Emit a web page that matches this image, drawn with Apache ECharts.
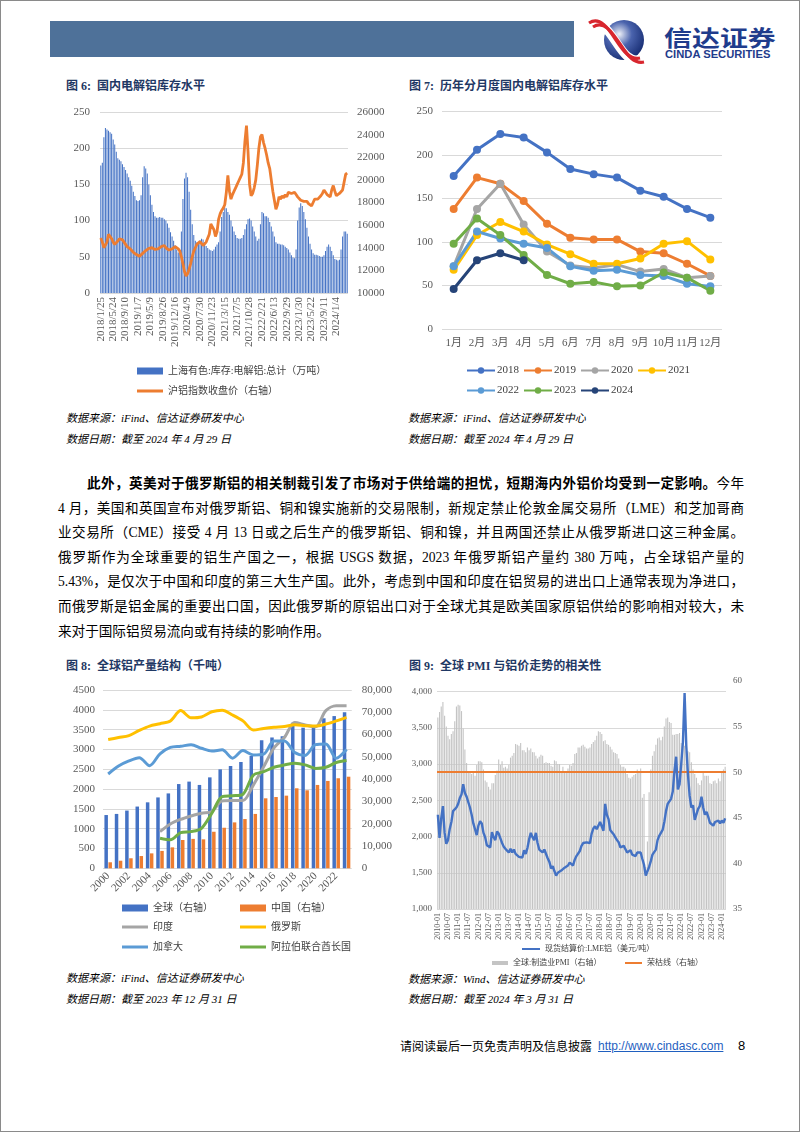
<!DOCTYPE html>
<html><head><meta charset="utf-8">
<script src="https://cdn.jsdelivr.net/npm/echarts@6/dist/echarts.min.js"></script>
<style>
html,body{margin:0;padding:0;background:#fff;}
#page{position:relative;width:802px;height:1133px;overflow:hidden;background:#fff;font-family:'Liberation Serif','Noto Sans CJK SC',serif;color:#000;}
.abs{position:absolute;white-space:nowrap;}
.title{font-size:12px;font-weight:bold;color:#1F3864;line-height:14px;}
.src{font-size:11px;font-style:italic;line-height:14px;}
.chart{position:absolute;}
.tline{position:absolute;font-size:13.6px;line-height:18px;text-align:justify;text-align-last:justify;}
</style></head>
<body>
<div id="page">
  <div class="abs" style="left:0;top:0;width:800px;height:1132px;box-sizing:border-box;border:1.5px solid #8a8a8a;"></div>
  <div class="abs" style="left:50px;top:21px;width:524px;height:36px;background:#4E7199;"></div>
  <svg class="abs" style="left:586px;top:16px;" width="72" height="48" viewBox="0 0 72 48">
    <defs><radialGradient id="lg" cx="38%" cy="35%" r="70%"><stop offset="0" stop-color="#eef1f8"/><stop offset="0.45" stop-color="#4a63ad"/><stop offset="1" stop-color="#162c72"/></radialGradient></defs>
    <circle cx="38" cy="24" r="20" fill="url(#lg)"/>
    <path d="M3 9 C 14 2, 22 14, 30 26 S 44 46, 54 44" stroke="#fff" stroke-width="9" fill="none"/>
    <path d="M3 9 C 14 2, 22 14, 30 26 S 44 46, 54 44" stroke="#d8262e" stroke-width="3.2" fill="none" transform="translate(0,-2)"/>
    <path d="M3 9 C 14 2, 22 14, 30 26 S 44 46, 54 44" stroke="#d8262e" stroke-width="3.2" fill="none" transform="translate(4,2)"/>
  </svg>
  <div class="abs" style="left:664px;top:23px;font-family:'Noto Sans CJK SC';font-weight:bold;font-size:22px;line-height:26px;color:#1F3C8C;transform:scaleX(1.27);transform-origin:0 0;">信达证券</div>
  <div class="abs" style="left:665px;top:49px;font-family:'Liberation Sans';font-weight:bold;font-size:10px;line-height:11px;color:#1F3C8C;transform:scaleX(1.12);transform-origin:0 0;">CINDA SECURITIES</div>

  <div class="abs title" style="left:66px;top:79px;">图 6:&nbsp; 国内电解铝库存水平</div>
  <div class="abs title" style="left:409px;top:79px;">图 7:&nbsp; 历年分月度国内电解铝库存水平</div>
  <div id="c6" class="chart" style="left:50px;top:95px;width:345px;height:310px;"></div>
  <div id="c7" class="chart" style="left:400px;top:95px;width:345px;height:310px;"></div>
  <div class="abs src" style="left:66px;top:411px;">数据来源：iFind、信达证券研发中心</div>
  <div class="abs src" style="left:66px;top:432px;">数据日期：截至 2024 年 4 月 29 日</div>
  <div class="abs src" style="left:408px;top:411px;">数据来源：iFind、信达证券研发中心</div>
  <div class="abs src" style="left:408px;top:432px;">数据日期：截至 2024 年 4 月 29 日</div>

  <div class="tline" style="left:87px;width:657px;top:475px;"><b>此外，英美对于俄罗斯铝的相关制裁引发了市场对于供给端的担忧，短期海内外铝价均受到一定影响。</b>今年</div>
  <div class="tline" style="left:58px;width:686px;top:499.6px;">4 月，美国和英国宣布对俄罗斯铝、铜和镍实施新的交易限制，新规定禁止伦敦金属交易所（LME）和芝加哥商</div>
  <div class="tline" style="left:58px;width:686px;top:524.2px;">业交易所（CME）接受 4 月 13 日或之后生产的俄罗斯铝、铜和镍，并且两国还禁止从俄罗斯进口这三种金属。</div>
  <div class="tline" style="left:58px;width:686px;top:548.8px;">俄罗斯作为全球重要的铝生产国之一，根据 USGS 数据，2023 年俄罗斯铝产量约 380 万吨，占全球铝产量的</div>
  <div class="tline" style="left:58px;width:686px;top:573.4px;">5.43%，是仅次于中国和印度的第三大生产国。此外，考虑到中国和印度在铝贸易的进出口上通常表现为净进口，</div>
  <div class="tline" style="left:58px;width:686px;top:598px;">而俄罗斯是铝金属的重要出口国，因此俄罗斯的原铝出口对于全球尤其是欧美国家原铝供给的影响相对较大，未</div>
  <div class="tline" style="left:58px;width:686px;top:622.6px;text-align-last:left;">来对于国际铝贸易流向或有持续的影响作用。</div>

  <div class="abs title" style="left:66px;top:659px;">图 8:&nbsp; 全球铝产量结构（千吨）</div>
  <div class="abs title" style="left:409px;top:659px;">图 9:&nbsp; 全球 PMI 与铝价走势的相关性</div>
  <div id="c8" class="chart" style="left:50px;top:675px;width:345px;height:285px;"></div>
  <div id="c9" class="chart" style="left:400px;top:670px;width:350px;height:300px;"></div>
  <div class="abs src" style="left:66px;top:971px;">数据来源：iFind、信达证券研发中心</div>
  <div class="abs src" style="left:66px;top:992px;">数据日期：截至 2023 年 12 月 31 日</div>
  <div class="abs src" style="left:408px;top:972px;">数据来源：Wind、信达证券研发中心</div>
  <div class="abs src" style="left:408px;top:992px;">数据日期：截至 2024 年 3 月 31 日</div>

  <div class="abs" style="left:400px;top:1039px;font-size:12px;line-height:16px;">请阅读最后一页免责声明及信息披露</div>
  <div class="abs" style="left:598px;top:1038px;font-family:'Liberation Sans';font-size:12px;line-height:16px;color:#1F5FBF;text-decoration:underline;">http://www.cindasc.com</div>
  <div class="abs" style="left:738px;top:1038px;font-family:'Liberation Sans';font-size:13px;line-height:16px;">8</div>
</div>
<script>
// ---------- Figure 6 ----------
var tick6 = ['2018/1/25','2018/5/24','2018/9/10','2019/1/7','2019/5/9','2019/8/26','2019/12/16','2020/4/9','2020/7/30','2020/11/23','2021/3/15','2021/7/5','2021/10/28','2022/2/21','2022/6/13','2022/9/29','2023/1/30','2023/5/22','2023/9/11','2024/1/4'];
var inv6 = [
176,180,215,228,226,224,222,220,212,205,
195,186,184,182,178,174,170,165,160,155,
148,140,134,128,127,128,135,160,175,172,
165,150,135,122,112,106,104,104,105,104,
104,102,100,96,90,84,78,72,66,60,
56,58,85,130,158,166,160,140,115,95,
80,72,70,70,73,75,74,70,65,62,
60,59,58,60,64,67,70,85,105,112,
118,117,112,108,100,92,85,80,76,75,
75,76,80,88,95,102,103,100,92,85,
78,72,75,95,112,110,106,106,104,98,
92,85,78,70,68,68,67,67,66,64,
62,60,56,52,49,48,60,100,118,124,
120,112,102,90,78,68,60,55,53,53,
52,51,50,50,52,58,64,67,64,58,
52,47,46,45,46,60,78,85,85,82];
var price6 = [
14860,14500,14000,13850,14500,15200,15100,14800,14500,14300,
14400,14600,14800,14860,14700,14500,14300,14100,14000,13900,
13800,13600,13500,13400,13300,13250,13300,13500,13600,13750,
13850,13950,14100,14000,13900,13850,13800,13900,14000,14100,
14250,14200,14000,13850,13800,13850,13900,14000,14100,14050,
13900,13700,13200,12600,11900,11500,11700,12100,12600,13200,
13700,14000,14300,14450,14550,14400,14200,14300,14500,14600,
15200,16100,16000,15600,15000,15400,16500,17000,17300,17500,
17800,18900,20400,19000,18300,18700,19000,19300,19600,19900,
20200,20500,21500,23400,24800,22500,19600,18600,18800,19300,
20000,21300,22800,23800,24000,23300,22800,22200,21500,21000,
20000,19000,18200,17400,17800,18500,18300,18600,18400,18700,
18500,18900,19000,18800,18700,18900,18700,18500,18400,18200,
18300,18100,18000,18100,17900,17800,17700,18000,18300,18400,
18300,18200,18600,18800,19100,18900,18700,18600,18500,19100,
19500,19000,18600,18700,18800,18900,19100,19800,20500,20600];
var tickStep6 = 8;
var name6a = '上海有色:库存:电解铝:总计（万吨）';
var name6b = '沪铝指数收盘价（右轴）';

// ---------- Figure 7 ----------
var months7 = ['1月','2月','3月','4月','5月','6月','7月','8月','9月','10月','11月','12月'];
var y2018 = [176,206,224,220,203,184,178,174,159,152,138,128];
var y2019 = [138,174,167,147,121,105,103,103,89,87,75,61];
var y2020 = [72,138,167,120,89,73,70,74,66,69,59,61];
var y2021 = [68,108,123,112,97,86,75,75,81,98,101,80];
var y2022 = [72,112,104,98,93,72,67,68,62,61,52,49];
var y2023 = [98,127,108,85,62,52,54,49,50,65,59,44];
var y2024 = [46,79,87,79];

// ---------- Figure 8 ----------
var years8 = ['2000','2001','2002','2003','2004','2005','2006','2007','2008','2009','2010','2011','2012','2013','2014','2015','2016','2017','2018','2019','2020','2021','2022','2023'];
var global8 = [23900,24400,25900,27700,29600,31800,33600,37800,38900,37400,40800,44400,45900,47700,50400,57500,58700,59300,65300,63100,64300,67300,68300,70000];
var china8 = [2700,3400,4500,5500,6700,7800,9400,12700,13200,13000,16400,18200,20600,22100,24400,31400,32000,32600,35900,35000,37400,39200,40400,41100];
var india8 = [null,null,null,null,null,925,1120,1235,1320,1390,1430,1700,1710,1710,2100,2560,3040,3300,3680,3620,3570,3980,4100,4100];
var russia8 = [3250,3300,3350,3480,3590,3650,3720,3980,3800,3820,3950,3990,3870,3720,3490,3530,3560,3580,3620,3600,3590,3640,3720,3810];
var canada8 = [2380,2580,2710,2790,2590,2890,3050,3080,3120,3030,2960,2990,2780,2970,2860,2880,3210,3210,2920,2850,3120,3140,2780,3000];
var uae8 = [null,null,null,null,null,760,720,900,925,1010,1390,1810,1830,1870,2350,2440,2550,2610,2650,2610,2520,2550,2670,2720];

// ---------- Figure 9 ----------
var tick9 = ['2010-01','2010-07','2011-01','2011-07','2012-01','2012-07','2013-01','2013-07','2014-01','2014-07','2015-01','2015-07','2016-01','2016-07','2017-01','2017-07','2018-01','2018-07','2019-01','2019-07','2020-01','2020-07','2021-01','2021-07','2022-01','2022-07','2023-01','2023-07','2024-01'];
var tickStep9 = 6;
var lme9 = [
2300,1980,2250,2420,2050,1900,1950,2100,2200,2350,2330,2400,
2450,2530,2580,2720,2600,2550,2560,2400,2300,2180,2100,2020,
2150,2210,2180,2050,1990,1880,1880,1850,2060,1990,1950,2070,
2040,2050,1910,1860,1830,1820,1780,1830,1780,1820,1760,1750,
1720,1700,1710,1810,1760,1840,1960,2050,1990,1950,2050,1910,
1820,1820,1780,1820,1810,1700,1650,1560,1590,1520,1460,1500,
1480,1530,1530,1570,1560,1600,1640,1640,1600,1680,1730,1730,
1800,1870,1910,1930,1920,1900,1910,2040,2110,2140,2100,2090,
2200,2180,2080,2450,2300,2240,2090,2060,2030,2020,1950,1920,
1850,1870,1870,1850,1780,1760,1810,1750,1760,1730,1780,1780,
1780,1690,1610,1460,1470,1580,1660,1750,1760,1820,1950,2010,
2010,2090,2200,2350,2450,2450,2520,2620,2900,3100,2650,2720,
3000,3300,3980,3250,2850,2560,2400,2430,2230,2250,2380,2420,
2550,2400,2300,2340,2270,2190,2170,2150,2200,2210,2220,2180,
2220,2190,2250];
var pmi9 = [
56.0,56.6,57.2,57.7,56.2,55.0,54.0,53.6,54.2,54.5,55.6,57.2,
57.4,57.3,56.7,54.8,52.5,51.0,50.1,49.9,49.8,49.9,49.6,50.8,
51.2,51.2,51.1,50.3,49.1,48.9,48.4,48.1,48.8,48.8,49.7,50.2,
51.4,50.8,51.2,50.5,50.6,50.4,50.8,51.6,51.8,52.1,53.1,53.0,
52.9,53.2,52.4,52.4,52.2,52.7,52.4,52.6,52.2,52.2,51.8,51.5,
51.7,51.9,51.8,51.0,51.1,51.0,51.0,50.7,50.6,51.3,51.2,50.9,
50.9,50.0,50.6,50.1,50.0,50.4,50.8,50.7,51.0,52.0,52.1,52.7,
52.7,52.9,53.0,52.8,52.6,52.6,52.7,53.1,53.3,53.5,54.0,54.5,
54.4,54.2,53.4,53.5,53.1,53.0,52.8,52.5,52.2,52.1,52.0,51.5,
50.8,50.6,50.6,50.4,49.8,49.4,49.3,49.5,49.7,49.8,50.3,50.1,
50.4,47.2,47.6,39.6,42.4,47.8,50.3,51.8,52.3,53.0,53.7,53.8,
53.5,53.9,55.0,55.9,56.0,55.5,55.4,54.1,54.1,54.2,54.2,54.3,
53.2,53.7,52.9,52.3,52.3,52.2,51.1,50.3,49.8,49.4,48.8,48.6,
49.1,49.9,49.6,49.6,49.6,48.8,48.7,49.0,49.1,48.8,49.3,49.0,
50.0,50.3,50.6];
var pmiThreshold = 50;

var FF = "'Liberation Serif','Noto Sans CJK SC',serif";
var AX = '#595959', GRID = '#D9D9D9';
var LINE_ICON = 'rect';

function cats(n, ticks, step){ var a=[]; for(var i=0;i<n;i++){ a.push(i%step===0 && ticks[i/step]!==undefined ? ticks[i/step] : ' '+i); } return a; }
function fmtLabel(ticks, step){ return function(v, idx){ return idx%step===0 && ticks[idx/step]!==undefined ? ticks[idx/step] : ''; }; }
function thousands(v){ return String(v).replace(/\B(?=(\d{3})+(?!\d))/g, ','); }
function plain(v){ return String(v); }

// Chart 6
var c6 = echarts.init(document.getElementById('c6'));
c6.setOption({
  animation:false, textStyle:{fontFamily:FF},
  grid:{left:50,top:17,width:248,height:181},
  legend:[
    {left:82,top:266,itemWidth:26,itemHeight:7,icon:'rect',data:[name6a],textStyle:{fontSize:10,color:'#404040',fontFamily:FF}},
    {left:82,top:286,itemWidth:26,itemHeight:3,icon:LINE_ICON,data:[name6b],textStyle:{fontSize:10,color:'#404040',fontFamily:FF}}
  ],
  xAxis:{type:'category',data:cats(inv6.length,tick6,tickStep6),axisLine:{show:false},axisTick:{show:false},
    axisLabel:{interval:tickStep6-1,rotate:90,fontSize:11,color:AX,margin:4,fontFamily:FF,formatter:fmtLabel(tick6,tickStep6)}},
  yAxis:[
    {type:'value',min:0,max:250,interval:50,axisLabel:{fontSize:11,color:AX,margin:10,fontFamily:FF,formatter:plain},splitLine:{lineStyle:{color:GRID}}},
    {type:'value',min:10000,max:26000,interval:2000,position:'right',splitLine:{show:false},axisLabel:{fontSize:11,color:AX,margin:9,fontFamily:FF,formatter:plain}}
  ],
  series:[
    {type:'bar',name:name6a,data:inv6,itemStyle:{color:'#4472C4'},barCategoryGap:'35%'},
    {type:'line',name:name6b,yAxisIndex:1,data:price6,symbol:'none',lineStyle:{color:'#ED7D31',width:2.8},itemStyle:{color:'#ED7D31'},z:5}
  ]
});

// Chart 7
var c7 = echarts.init(document.getElementById('c7'));
var cols7 = ['#4472C4','#ED7D31','#A5A5A5','#FFC000','#5B9BD5','#70AD47','#264478'];
var data7 = [y2018,y2019,y2020,y2021,y2022,y2023,y2024];
var names7 = ['2018','2019','2020','2021','2022','2023','2024'];
c7.setOption({
  animation:false, textStyle:{fontFamily:FF},
  grid:{left:42,top:16.5,width:280,height:217.5},
  legend:[
    {left:61,top:265,itemWidth:28,itemHeight:8,itemGap:4,data:names7.slice(0,4),textStyle:{fontSize:11,color:'#404040',fontFamily:FF,padding:[0,0,0,-3]}},
    {left:61,top:285,itemWidth:28,itemHeight:8,itemGap:4,data:names7.slice(4),textStyle:{fontSize:11,color:'#404040',fontFamily:FF,padding:[0,0,0,-3]}}
  ],
  xAxis:{type:'category',data:months7,axisLine:{show:false},axisTick:{show:false},axisLabel:{interval:0,fontSize:11,color:AX,margin:9,fontFamily:FF}},
  yAxis:{type:'value',min:0,max:250,interval:50,axisLabel:{fontSize:11,color:AX,margin:9,fontFamily:FF},splitLine:{lineStyle:{color:GRID}}},
  series:data7.map(function(d,i){return {type:'line',name:names7[i],data:d,symbol:'circle',symbolSize:8,
    lineStyle:{color:cols7[i],width:3},itemStyle:{color:cols7[i]}};})
});

// Chart 8
var c8 = echarts.init(document.getElementById('c8'));
var n8 = ['全球（右轴）','中国（右轴）','印度','俄罗斯','加拿大','阿拉伯联合酋长国'];
var lg8 = function(name,left,top,isBar){ return {left:left,top:top,itemWidth:26,itemHeight:isBar?7:3,icon:isBar?'rect':LINE_ICON,data:[name],textStyle:{fontSize:10,color:'#404040',fontFamily:FF}}; };
c8.setOption({
  animation:false, textStyle:{fontFamily:FF},
  grid:{left:53,top:15,width:250,height:178.3},
  legend:[lg8(n8[0],67,223,true),lg8(n8[1],185,223,true),lg8(n8[2],67,242),lg8(n8[3],185,242),lg8(n8[4],67,262),lg8(n8[5],185,262)],
  xAxis:{type:'category',data:years8,axisLine:{show:false},axisTick:{show:false},axisLabel:{interval:1,rotate:45,fontSize:11,color:AX,margin:6,fontFamily:FF}},
  yAxis:[
    {type:'value',min:0,max:4500,interval:500,axisLabel:{fontSize:11,color:AX,margin:8,fontFamily:FF,formatter:plain},splitLine:{lineStyle:{color:GRID}}},
    {type:'value',min:0,max:80000,interval:10000,position:'right',splitLine:{show:false},axisLabel:{fontSize:11,color:AX,margin:10,fontFamily:FF,formatter:thousands}}
  ],
  series:[
    {type:'bar',name:n8[0],yAxisIndex:1,data:global8,barWidth:3.5,barGap:'15%',itemStyle:{color:'#4472C4'}},
    {type:'bar',name:n8[1],yAxisIndex:1,data:china8,barWidth:3.5,barGap:'15%',itemStyle:{color:'#ED7D31'}},
    {type:'line',name:n8[2],data:india8,symbol:'none',smooth:0.3,lineStyle:{color:'#A5A5A5',width:3},itemStyle:{color:'#A5A5A5'},z:3},
    {type:'line',name:n8[3],data:russia8,symbol:'none',smooth:0.3,lineStyle:{color:'#FFC000',width:3},itemStyle:{color:'#FFC000'},z:3},
    {type:'line',name:n8[4],data:canada8,symbol:'none',smooth:0.3,lineStyle:{color:'#5B9BD5',width:3},itemStyle:{color:'#5B9BD5'},z:3},
    {type:'line',name:n8[5],data:uae8,symbol:'none',smooth:0.3,lineStyle:{color:'#70AD47',width:3},itemStyle:{color:'#70AD47'},z:3}
  ]
});

// Chart 9
var c9 = echarts.init(document.getElementById('c9'));
var n9 = ['现货结算价:LME铝（美元/吨）','全球:制造业PMI（右轴）','荣枯线（右轴）'];
var cat9 = cats(pmi9.length,tick9,tickStep9);
c9.setOption({
  animation:false, textStyle:{fontFamily:FF},
  grid:[{left:37,top:21.5,width:289,height:217.5},{left:37,top:11,width:289,height:228}],
  legend:[
    {left:117,top:270,itemWidth:18,itemHeight:2,icon:LINE_ICON,data:[n9[0]],textStyle:{fontSize:8,color:'#404040',fontFamily:FF}},
    {left:87,top:284,itemWidth:16,itemHeight:4,icon:'rect',data:[n9[1]],textStyle:{fontSize:8,color:'#404040',fontFamily:FF}},
    {left:220,top:284,itemWidth:17,itemHeight:2,icon:LINE_ICON,data:[n9[2]],textStyle:{fontSize:8,color:'#404040',fontFamily:FF}}
  ],
  xAxis:[
    {type:'category',gridIndex:0,data:cat9,axisLine:{show:false},axisTick:{show:false},axisLabel:{interval:tickStep9-1,rotate:90,fontSize:8,color:AX,margin:4,fontFamily:FF,formatter:fmtLabel(tick9,tickStep9)}},
    {type:'category',gridIndex:1,data:cat9,show:false}
  ],
  yAxis:[
    {type:'value',gridIndex:0,min:1000,max:4000,interval:500,axisLabel:{fontSize:9,color:AX,margin:5,fontFamily:FF,formatter:thousands},splitLine:{lineStyle:{color:GRID}}},
    {type:'value',gridIndex:1,min:35,max:60,interval:5,position:'right',splitLine:{show:false},axisLabel:{fontSize:9,color:AX,margin:7,fontFamily:FF}}
  ],
  series:[
    {type:'bar',name:n9[1],xAxisIndex:1,yAxisIndex:1,data:pmi9,barCategoryGap:'35%',itemStyle:{color:'#C4C4C4'},
      markLine:{silent:true,symbol:'none',label:{show:false},lineStyle:{color:'#ED7D31',width:2,type:'solid'},data:[{yAxis:pmiThreshold}],z:4}},
    {type:'line',name:n9[2],xAxisIndex:1,yAxisIndex:1,data:[],symbol:'none',lineStyle:{color:'#ED7D31',width:2},itemStyle:{color:'#ED7D31'}},
    {type:'line',name:n9[0],xAxisIndex:0,yAxisIndex:0,data:lme9,symbol:'none',lineStyle:{color:'#4472C4',width:2.4},itemStyle:{color:'#4472C4'},z:6}
  ]
});
</script>
</body></html>
